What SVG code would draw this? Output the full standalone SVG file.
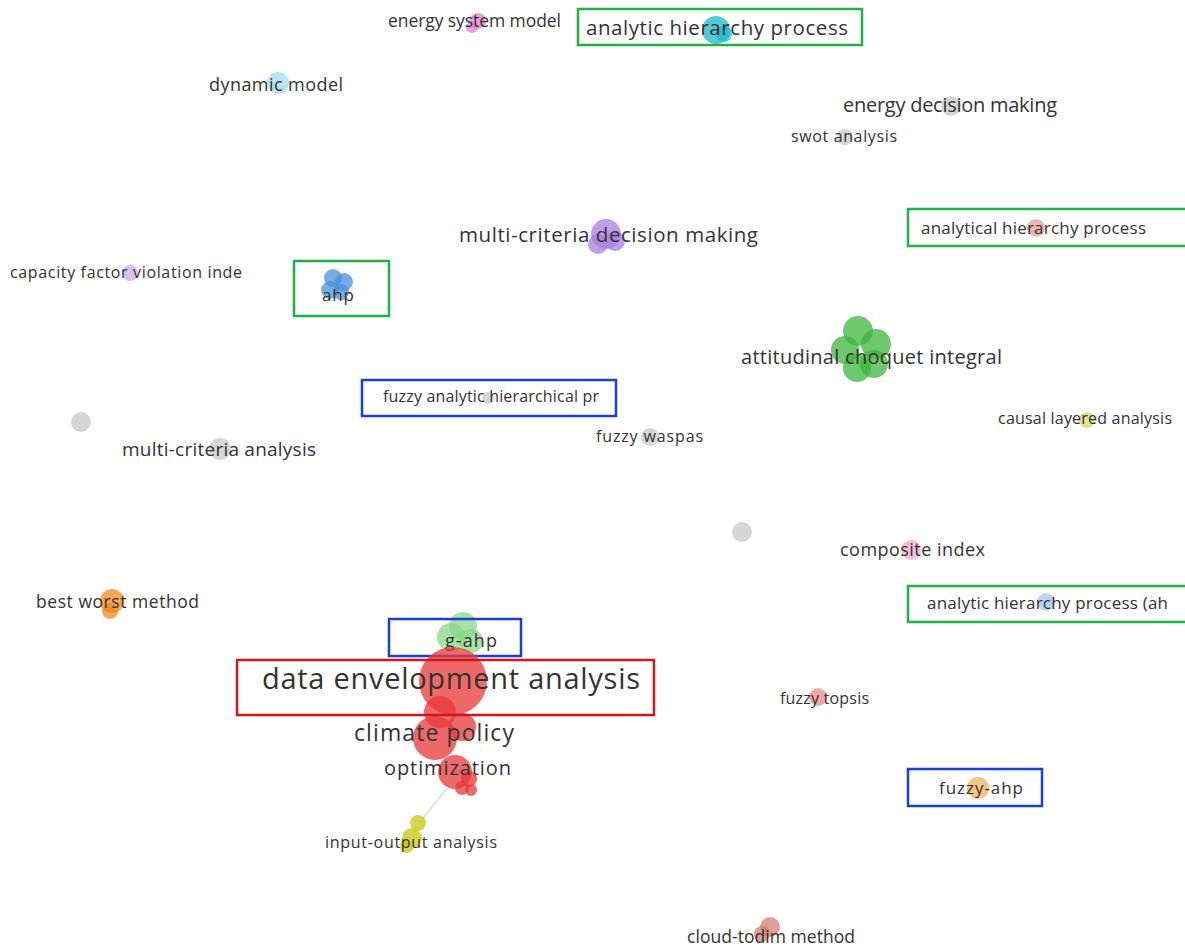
<svg xmlns="http://www.w3.org/2000/svg" width="1185" height="947" viewBox="0 0 1185 947">
<style>
text{font-family:"Open Sans","Noto Sans","Liberation Sans",sans-serif;fill:#333;}
.b{fill:none;stroke-width:2.5;}
.g{stroke:#1fb14a;}
.bl{stroke:#1a3fd6;}
.r{stroke:#d0161c;}
.n{opacity:0.75;}
</style>
<rect width="1185" height="947" fill="#fff"/>
<g id="connectors">
<line x1="447" y1="788" x2="420" y2="822" stroke="#ddd" stroke-width="1.5"/>
</g>
<g id="n-energy-system-model">
<circle class="n" cx="478" cy="21" r="8" fill="#e07fd0"/>
<circle class="n" cx="472" cy="27" r="6" fill="#e07fd0"/>
<text x="388" y="27" font-size="17.5" textLength="173">energy system model</text>
</g>
<g id="n-analytic-hierarchy-process">
<circle class="n" cx="716" cy="30" r="14" fill="#1bb8c8"/>
<circle class="n" cx="724" cy="34" r="8" fill="#1bb8c8"/>
<text x="586" y="35" font-size="20.5" textLength="262">analytic hierarchy process</text>
<rect class="b g" x="578" y="9" width="284" height="36"/>
</g>
<g id="n-dynamic-model">
<circle class="n" cx="278" cy="83" r="11" fill="#9fdde8"/>
<text x="209" y="91" font-size="18" textLength="134">dynamic model</text>
</g>
<g id="n-energy-decision-making">
<circle class="n" cx="951" cy="106" r="10" fill="#c8c8c8"/>
<text x="843" y="112" font-size="20" textLength="214">energy decision making</text>
</g>
<g id="n-swot-analysis">
<circle class="n" cx="845" cy="137" r="8" fill="#c8c8c8"/>
<text x="791" y="142" font-size="16" textLength="106">swot analysis</text>
</g>
<g id="n-multi-criteria-decision-making">
<circle class="n" cx="606" cy="234" r="15" fill="#a87ee0"/>
<circle class="n" cx="598" cy="244" r="10" fill="#a87ee0"/>
<circle class="n" cx="615" cy="241" r="10" fill="#a87ee0"/>
<text x="459" y="242" font-size="20.5" textLength="299">multi-criteria decision making</text>
</g>
<g id="n-analytical-hierarchy-process">
<circle class="n" cx="1036" cy="228" r="9" fill="#e0a090"/>
<text x="921" y="234" font-size="17" textLength="225">analytical hierarchy process</text>
<rect class="b g" x="908" y="209" width="280" height="37"/>
</g>
<g id="n-capacity-factor">
<circle class="n" cx="130" cy="273" r="8" fill="#c8aee8"/>
<text x="10" y="278" font-size="16" textLength="232">capacity factor violation inde</text>
</g>
<g id="n-ahp">
<circle class="n" cx="333" cy="278" r="9" fill="#4a90d9"/>
<circle class="n" cx="344" cy="282" r="9" fill="#4a90d9"/>
<circle class="n" cx="330" cy="290" r="9" fill="#4a90d9"/>
<circle class="n" cx="341" cy="292" r="8" fill="#4a90d9"/>
<text x="322" y="301" font-size="17" textLength="32">ahp</text>
<rect class="b g" x="294" y="261" width="95" height="55"/>
</g>
<g id="n-attitudinal-choquet-integral">
<circle class="n" cx="858" cy="331" r="15" fill="#3db53d"/>
<circle class="n" cx="876" cy="344" r="15" fill="#3db53d"/>
<circle class="n" cx="845" cy="350" r="14" fill="#3db53d"/>
<circle class="n" cx="874" cy="364" r="14" fill="#3db53d"/>
<circle class="n" cx="857" cy="368" r="14" fill="#3db53d"/>
<text x="741" y="364" font-size="20" textLength="261">attitudinal choquet integral</text>
</g>
<g id="n-fuzzy-analytic-hierarchical">
<circle class="n" cx="488" cy="398" r="6" fill="#c8c8c8"/>
<text x="383" y="402" font-size="16" textLength="216">fuzzy analytic hierarchical pr</text>
<rect class="b bl" x="362" y="380" width="254" height="36"/>
</g>
<g id="n-gray-1">
<circle class="n" cx="81" cy="422" r="10" fill="#c8c8c8"/>
</g>
<g id="n-multi-criteria-analysis">
<circle class="n" cx="220" cy="449" r="11" fill="#c8c8c8"/>
<text x="122" y="456" font-size="19" textLength="194">multi-criteria analysis</text>
</g>
<g id="n-fuzzy-waspas">
<circle class="n" cx="650" cy="437" r="9" fill="#c8c8c8"/>
<text x="596" y="442" font-size="16" textLength="107">fuzzy waspas</text>
</g>
<g id="n-causal-layered-analysis">
<circle class="n" cx="1087" cy="420" r="8" fill="#d8d870"/>
<text x="998" y="424" font-size="16" textLength="174">causal layered analysis</text>
</g>
<g id="n-gray-2">
<circle class="n" cx="742" cy="532" r="10" fill="#c8c8c8"/>
</g>
<g id="n-composite-index">
<circle class="n" cx="911" cy="550" r="10" fill="#f0a8c8"/>
<text x="840" y="556" font-size="18" textLength="145">composite index</text>
</g>
<g id="n-analytic-hierarchy-process-ah">
<circle class="n" cx="1046" cy="602" r="9" fill="#a8c4f0"/>
<text x="927" y="609" font-size="17" textLength="241">analytic hierarchy process (ah</text>
<rect class="b g" x="908" y="586" width="280" height="36"/>
</g>
<g id="n-best-worst-method">
<circle class="n" cx="112" cy="601" r="12" fill="#f08a20"/>
<circle class="n" cx="110" cy="611" r="8" fill="#f08a20"/>
<text x="36" y="608" font-size="17.5" textLength="163">best worst method</text>
</g>
<g id="n-g-ahp">
<circle class="n" cx="463" cy="626" r="14" fill="#8ad88a"/>
<circle class="n" cx="451" cy="637" r="14" fill="#8ad88a"/>
<circle class="n" cx="471" cy="641" r="12" fill="#8ad88a"/>
<text x="445" y="647" font-size="18" textLength="52">g-ahp</text>
<rect class="b bl" x="389" y="619" width="132" height="37"/>
</g>
<g id="n-climate-policy">
<circle class="n" cx="440" cy="712" r="16" fill="#e83838"/>
<circle class="n" cx="435" cy="738" r="22" fill="#e83838"/>
<circle class="n" cx="462" cy="727" r="14" fill="#e83838"/>
<text x="354" y="741" font-size="23" textLength="160">climate policy</text>
</g>
<g id="n-optimization">
<circle class="n" cx="455" cy="772" r="17" fill="#e83838"/>
<circle class="n" cx="469" cy="779" r="8" fill="#e83838"/>
<circle class="n" cx="462" cy="788" r="7" fill="#e83838"/>
<circle class="n" cx="471" cy="790" r="6" fill="#e83838"/>
<text x="384" y="775" font-size="20" textLength="127">optimization</text>
</g>
<g id="n-data-envelopment-analysis">
<circle class="n" cx="453" cy="681" r="34" fill="#e83838"/>
<text x="262" y="689" font-size="29" textLength="378">data envelopment analysis</text>
<rect class="b r" x="237" y="660" width="417" height="55"/>
</g>
<g id="n-input-output-analysis">
<circle class="n" cx="418" cy="823" r="8" fill="#c8c810"/>
<circle class="n" cx="412" cy="838" r="10" fill="#c8c810"/>
<circle class="n" cx="407" cy="846" r="7" fill="#c8c810"/>
<text x="325" y="848" font-size="16" textLength="172">input-output analysis</text>
</g>
<g id="n-fuzzy-topsis">
<circle class="n" cx="818" cy="697" r="9" fill="#f08a8a"/>
<text x="780" y="704" font-size="16" textLength="89">fuzzy topsis</text>
</g>
<g id="n-fuzzy-ahp">
<circle class="n" cx="978" cy="788" r="11" fill="#f0b060"/>
<text x="939" y="794" font-size="17" textLength="84">fuzzy-ahp</text>
<rect class="b bl" x="908" y="769" width="134" height="37"/>
</g>
<g id="n-cloud-todim-method">
<circle class="n" cx="770" cy="927" r="10" fill="#d08070"/>
<circle class="n" cx="762" cy="934" r="8" fill="#d08070"/>
<text x="687" y="943" font-size="17.5" textLength="168">cloud-todim method</text>
</g>
</svg>
